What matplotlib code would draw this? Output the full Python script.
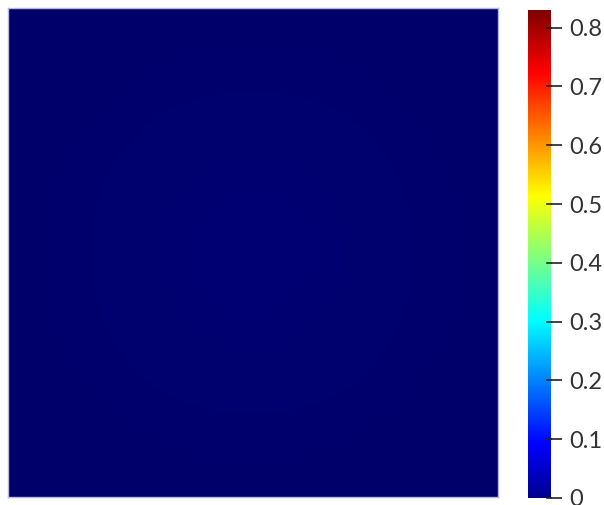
import numpy as np
import matplotlib
matplotlib.use("Agg")
import matplotlib.pyplot as plt
from matplotlib.colors import LinearSegmentedColormap, Normalize
from matplotlib.cm import ScalarMappable
from matplotlib.patches import Rectangle

# Scalar field sampled on a coarse 9x9 grid over the square domain
field_vals = np.array([
    [0.000, 0.000, 0.001, 0.001, 0.001, 0.001, 0.001, 0.000, 0.000],
    [0.000, 0.001, 0.002, 0.003, 0.003, 0.003, 0.002, 0.001, 0.000],
    [0.001, 0.002, 0.004, 0.005, 0.006, 0.005, 0.004, 0.002, 0.001],
    [0.001, 0.003, 0.005, 0.008, 0.009, 0.008, 0.005, 0.003, 0.001],
    [0.001, 0.003, 0.006, 0.009, 0.010, 0.009, 0.006, 0.003, 0.001],
    [0.001, 0.003, 0.005, 0.008, 0.009, 0.008, 0.005, 0.003, 0.001],
    [0.001, 0.002, 0.004, 0.005, 0.006, 0.005, 0.004, 0.002, 0.001],
    [0.000, 0.001, 0.002, 0.003, 0.003, 0.003, 0.002, 0.001, 0.000],
    [0.000, 0.000, 0.001, 0.001, 0.001, 0.001, 0.001, 0.000, 0.000],
])

range_min = 0.0
range_max = 0.83
tick_values = [0.0, 0.1, 0.2, 0.3, 0.4, 0.5, 0.6, 0.7, 0.8]
tick_labels = ["0", "0.1", "0.2", "0.3", "0.4", "0.5", "0.6", "0.7", "0.8"]

# ParaView-style "Jet" preset
jet_nodes = [
    (0.000, (0.0, 0.0, 0.5625)),
    (0.111, (0.0, 0.0, 1.0)),
    (0.365, (0.0, 1.0, 1.0)),
    (0.492, (0.5, 1.0, 0.5)),
    (0.619, (1.0, 1.0, 0.0)),
    (0.873, (1.0, 0.0, 0.0)),
    (1.000, (0.5, 0.0, 0.0)),
]
cmap = LinearSegmentedColormap.from_list("pv_jet", jet_nodes, N=512)
norm = Normalize(vmin=range_min, vmax=range_max)

fig = plt.figure(figsize=(6.04, 5.05), dpi=100)
fig.patch.set_facecolor("white")

ax = fig.add_axes([8 / 604, 8 / 505, 490 / 604, 489 / 505])
ax.imshow(field_vals, cmap=cmap, norm=norm, interpolation="bicubic",
          extent=[0, 1, 0, 1], origin="lower", aspect="auto")
# surface lighting darkens the rendered colours a bit
ax.add_patch(Rectangle((0, 0), 1, 1, transform=ax.transAxes,
                       facecolor="black", edgecolor="none", alpha=0.25))
ax.set_xticks([])
ax.set_yticks([])
for sp in ax.spines.values():
    sp.set_color("#b8b8dc")
    sp.set_linewidth(1.0)

cax = fig.add_axes([528 / 604, 7 / 505, 23 / 604, 488 / 505])
cb = fig.colorbar(ScalarMappable(norm=norm, cmap=cmap), cax=cax)
cb.outline.set_visible(False)
cb.set_ticks(tick_values)
cb.set_ticklabels(tick_labels)
cax.tick_params(direction="out", length=8, width=1.2, color="#222222",
                pad=5, labelsize=17, labelcolor="#333333")
# short inner part of each tick mark
for v in tick_values:
    cax.plot([0.82, 1.0], [v, v], color="#222222", lw=1.2,
             transform=cax.get_yaxis_transform(), clip_on=False)
for lbl in cax.get_yticklabels():
    lbl.set_family("Lato")

fig.savefig("out.png", dpi=100)
